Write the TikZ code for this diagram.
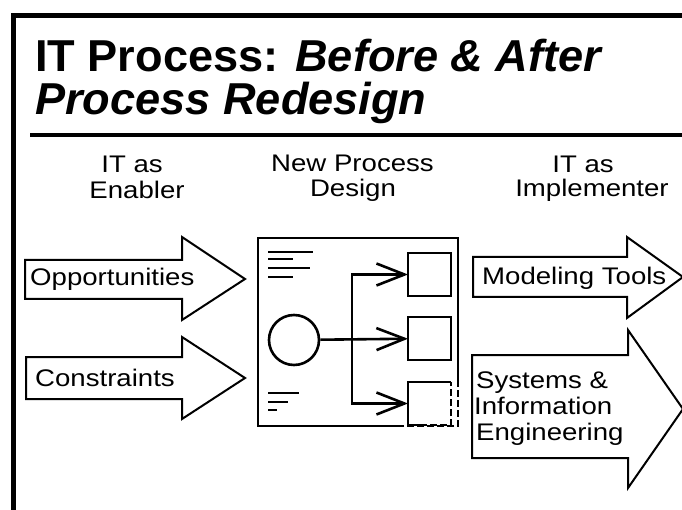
\documentclass[tikz,border=0pt]{standalone}
\usepackage{fontspec}
\newfontfamily\bodyf[FakeStretch=1.15]{Liberation Sans}
\newfontfamily\titlef[FakeStretch=1.01]{Liberation Sans}
\usetikzlibrary{arrows.meta}
\begin{document}
\begin{tikzpicture}[x=1pt,y=-1pt,
  txt/.style={inner sep=0pt, font=\bodyf\fontsize{24}{26}\selectfont},
  ttl/.style={inner sep=0pt, font=\titlef\bfseries\fontsize{44.7}{43}\selectfont},
  frameline/.style={line width=5.5pt, line join=miter},
  rule/.style={line width=3.5pt},
  bigarrow/.style={draw, line width=2pt, line join=miter, fill=white},
  panel/.style={line width=2pt},
  scribble/.style={line width=2pt},
  hubstyle/.style={draw, circle, minimum size=50pt, line width=2.6pt, inner sep=0pt},
  boxstyle/.style={minimum width=43pt, minimum height=43pt, line width=2.6pt, inner sep=0pt, outer sep=0pt},
  conn/.style={line width=2.6pt, -{Straight Barb[length=28pt,width=22pt]}},
  brk/.style={line width=2.6pt, dash pattern=on 7pt off 3pt},
  brkthin/.style={line width=2pt, dash pattern=on 7pt off 3pt}]
\useasboundingbox (0,0) rectangle (682,510);
\fill[white] (0,0) rectangle (682,510);

% frame
\draw[frameline] (13.5,510) -- (13.5,15.5) -- (682,15.5);
\draw[rule] (30,135) -- (682,135);

% title
\node[ttl, anchor=base west] (t1) at (35,72) {IT Process: \textit{Before \& After}};
\node[ttl, anchor=base west] (t2) at (35,115) {\textit{Process Redesign}};

% headers
\node[txt, anchor=base] (h1a) at (132,173) {IT as};
\node[txt, anchor=base] (h1b) at (137,199) {Enabler};
\node[txt, anchor=base] (h2a) at (352.5,172) {New Process};
\node[txt, anchor=base] (h2b) at (353,197) {Design};
\node[txt, anchor=base] (h3a) at (583,173) {IT as};
\node[txt, anchor=base] (h3b) at (592,197) {Implementer};

% left arrows
\path[bigarrow] (25,260) -- (182,260) -- (182,237) -- (245,279) -- (182,320) -- (182,299) -- (25,299) -- cycle;
\path[bigarrow] (26,357) -- (182,357) -- (182,337) -- (245,378) -- (182,419) -- (182,399) -- (26,399) -- cycle;
\node[txt, anchor=base west] (opp) at (30,286) {Opportunities};
\node[txt, anchor=base west] (cons) at (35,386) {Constraints};

% right arrows
\path[bigarrow] (473,257) -- (627,257) -- (627,237) -- (683,277) -- (627,318) -- (627,297) -- (473,297) -- cycle;
\path[bigarrow] (472,355) -- (628,355) -- (628,330) -- (683,409) -- (628,488) -- (628,458) -- (472,458) -- cycle;
\node[txt, anchor=base west] (mod) at (482,285) {Modeling Tools};
\node[txt, anchor=base west] (sys1) at (476,388) {Systems \&};
\node[txt, anchor=base west] (sys2) at (474,414) {Information};
\node[txt, anchor=base west] (sys3) at (476,440) {Engineering};

% centre panel
\draw[panel] (403,426) -- (258,426) -- (258,238) -- (458,238) -- (458,380);
\draw[brkthin] (458,380) -- (458,426) -- (403,426);
\draw[scribble] (268,252) -- (313,252);
\draw[scribble] (268,259.5) -- (293,259.5);
\draw[scribble] (268,268) -- (310,268);
\draw[scribble] (268,277) -- (293,277);
\draw[scribble] (268,393) -- (299,393);
\draw[scribble] (268,401.5) -- (288,401.5);
\draw[scribble] (268,410) -- (277,410);

\node[hubstyle] (hub) at (294,340) {};
\node[boxstyle, draw] (b1) at (429.5,274.5) {};
\node[boxstyle, draw] (b2) at (429.5,338.5) {};
\node[boxstyle] (b3) at (429.5,403.5) {};
\draw[line width=2.6pt] (b3.north east) -- (b3.north west) -- (b3.south west) -- ([xshift=12pt]b3.south west);
\draw[brk] ([xshift=12pt]b3.south west) -- (b3.south east) -- (b3.north east);
\coordinate (j) at (352,338.5);
\draw[conn] (hub) -- (b2);
\draw[conn] (j) |- (b1);
\draw[conn] (j) |- (b3);
\end{tikzpicture}
\end{document}
